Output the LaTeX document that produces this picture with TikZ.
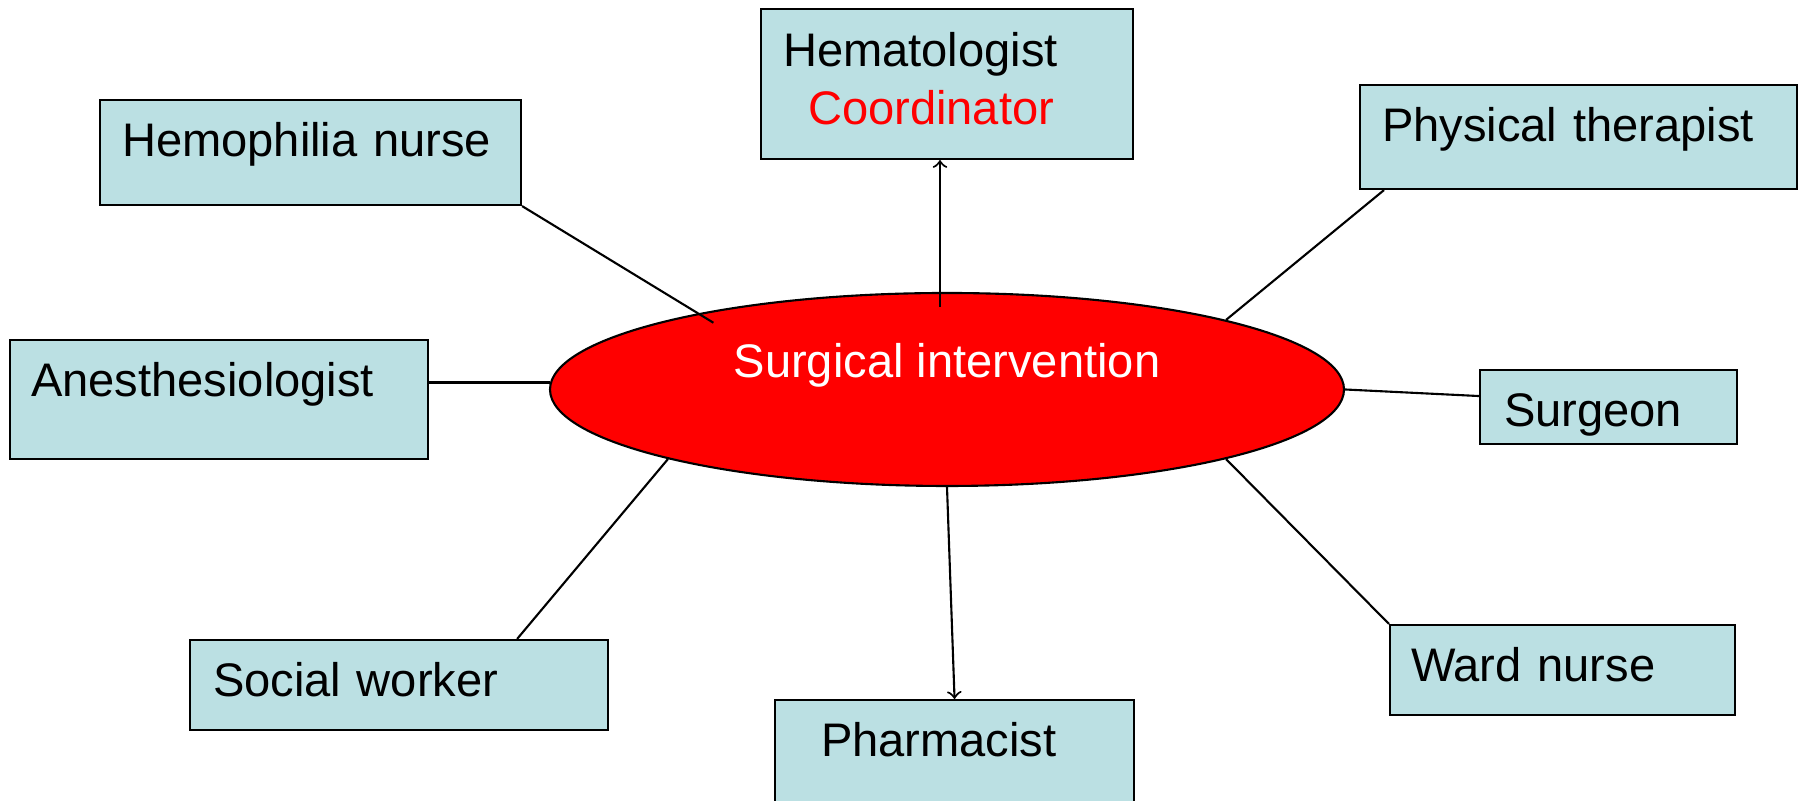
\documentclass[tikz,border=0pt]{standalone}
\usepackage{fontspec}
\setmainfont{Liberation Sans}
\usetikzlibrary{shapes.geometric}
\definecolor{boxblue}{HTML}{BBE0E3}
\newcommand{\rolefont}{\fontsize{13.4}{16.5}\selectfont}
\tikzstyle{role}=[draw, fill=boxblue, anchor=north west, inner xsep=0.22cm, inner ysep=0pt,
                  text height=0.56cm, align=left, font=\rolefont]
\tikzstyle{hub}=[draw, fill=red, ellipse, inner sep=0pt, minimum width=7.94cm, minimum height=1.93cm,
                 text=white, text height=0.35cm, text depth=0.58cm, font=\rolefont]
\begin{document}
\begin{tikzpicture}[x=1cm, y=-1cm, semithick]
        \useasboundingbox (0, 0) rectangle (18, 8.01);
        \clip (0, 0) rectangle (18, 8.01);
        % Team members around the operation.
        \node[role, text width=3.28cm, text depth=0.93cm, text height=0.57cm] (hem) at (7.60, 0.08)
            {Hematologist\\\hspace*{0.25cm}\textcolor{red}{Coordinator}};
        \node[role, text width=3.77cm, text depth=0.49cm] (hn)  at (0.99, 0.99) {Hemophilia nurse};
        \node[role, text width=3.93cm, text depth=0.48cm] (pt)  at (13.59, 0.84) {Physical therapist};
        \node[role, text width=3.76cm, text depth=0.63cm, inner xsep=0.21cm] (an) at (0.09, 3.39) {Anesthesiologist};
        \node[role, text width=2.09cm, text depth=0.18cm, inner xsep=0.24cm] (sg) at (14.79, 3.69) {Surgeon};
        \node[role, text width=3.72cm, text depth=0.34cm, inner xsep=0.23cm] (sw) at (1.89, 6.39) {Social worker};
        \node[role, text width=3.03cm, text depth=0.34cm, inner xsep=0.21cm] (wn) at (13.89, 6.24) {Ward nurse};
        \node[role, text width=2.67cm, text depth=0.70cm, inner xsep=0.46cm] (ph) at (7.74, 6.99) {Pharmacist};
        % The operation itself.
        \node[hub] (surg) at (9.47, 3.895) {Surgical intervention};
        \coordinate (hemfoot) at ([xshift=-0.07cm]surg.north);
        \draw[->, shorten <=-0.15cm] (hemfoot) -- (hemfoot |- hem.south);
        \draw[->] (surg.south) -- (ph.north);
        \draw[shorten >=-0.18cm] (hn.south east) -- (surg.163);
        \draw ([xshift=0.25cm]pt.south west) -- (surg.14);
        \draw (surg.179) -- (surg.179 -| an.east);
        \draw (surg.east) -- ([yshift=0.11cm]sg.west);
        \draw (surg.-14) -- (wn.north west);
        \draw (surg.194.3) -- ([xshift=-0.92cm]sw.north east);
    \end{tikzpicture}
\end{document}
